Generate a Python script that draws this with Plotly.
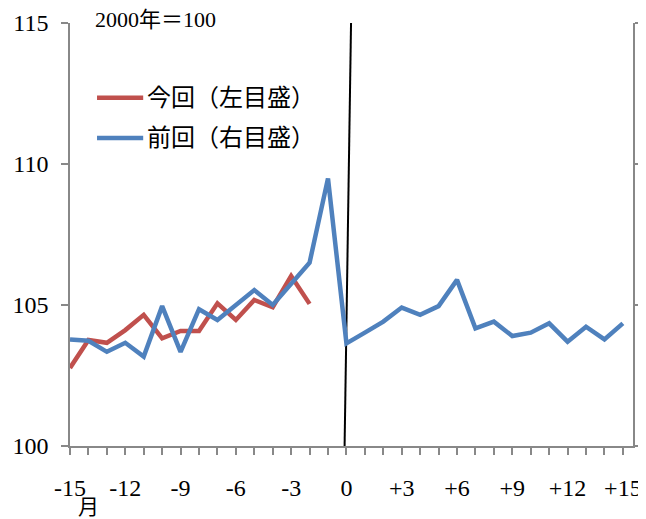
import plotly.graph_objects as go

months = list(range(-15, 16))
current_months = list(range(-15, -1))
current_values = [102.77, 103.76, 103.66, 104.11, 104.65, 103.82, 104.08, 104.08,
                  105.06, 104.47, 105.18, 104.92, 106.03, 105.04]
previous_values = [103.78, 103.73, 103.34, 103.66, 103.17, 104.96, 103.34, 104.85,
                   104.47, 104.98, 105.53, 105.00, 105.75, 106.50, 109.49, 103.64,
                   104.02, 104.41, 104.91, 104.65, 104.96, 105.89, 104.17, 104.41,
                   103.90, 104.02, 104.35, 103.70, 104.23, 103.78, 104.35]
zero_line_x = [-0.1, 0.25]
zero_line_y = [100, 115]
x_tick_vals = months
x_tick_text = [("+%d" % m if m > 0 else str(m)) if m % 3 == 0 else "" for m in months]
y_tick_vals = [100, 105, 110, 115]
series_names = ["今回（左目盛）", "前回（右目盛）"]
series_colors = ["#C0504D", "#4F81BD"]

serif = "Liberation Serif, Noto Sans CJK JP"
axis_color = "#888888"

fig = go.Figure()
fig.add_trace(go.Scatter(x=current_months, y=current_values, mode="lines",
                         name=series_names[0], showlegend=False,
                         line=dict(color=series_colors[0], width=4.5)))
fig.add_trace(go.Scatter(x=months, y=previous_values, mode="lines",
                         name=series_names[1], showlegend=False, yaxis="y2",
                         line=dict(color=series_colors[1], width=4.5)))
fig.add_trace(go.Scatter(x=zero_line_x, y=zero_line_y, mode="lines",
                         showlegend=False, hoverinfo="skip",
                         line=dict(color="black", width=2)))

# manual legend (keys + labels), placed in paper coordinates
legend_y = [0.823, 0.728]
shapes = []
annotations = []
for name, color, ly in zip(series_names, series_colors, legend_y):
    shapes.append(dict(type="line", xref="paper", yref="paper",
                       x0=0.048, x1=0.130, y0=ly, y1=ly,
                       line=dict(color=color, width=4.5)))
    annotations.append(dict(text=name, x=0.133, y=ly, xref="paper", yref="paper",
                            xanchor="left", yanchor="middle", showarrow=False,
                            font=dict(family=serif, size=24, color="black")))

annotations.append(dict(text="2000年＝100", x=0.04, y=1.008, xref="paper",
                        yref="paper", xanchor="left", yanchor="middle",
                        showarrow=False,
                        font=dict(family=serif, size=22, color="black")))
annotations.append(dict(text="月", x=-14.0, y=-0.144, xref="x", yref="paper",
                        xanchor="center", yanchor="middle", showarrow=False,
                        font=dict(family=serif, size=21, color="black")))

fig.update_layout(
    width=638, height=511,
    margin=dict(l=62, r=13, t=15, b=73, autoexpand=False),
    plot_bgcolor="white", paper_bgcolor="white",
    font=dict(family=serif, size=24, color="black"),
    showlegend=False,
    xaxis=dict(range=[-15, 15.55], tickmode="array", tickvals=x_tick_vals,
               ticktext=x_tick_text, ticks="outside", ticklen=7, tickwidth=1.5,
               tickcolor=axis_color, showline=True, linecolor=axis_color,
               linewidth=1.5, showgrid=False, zeroline=False, automargin=False,
               ticklabelstandoff=12,
               tickfont=dict(family=serif, size=24)),
    yaxis=dict(range=[100, 115], tickvals=y_tick_vals, ticks="outside",
               ticklen=7, tickwidth=1.5, tickcolor=axis_color, showline=True,
               linecolor=axis_color, linewidth=1.5, showgrid=False,
               zeroline=False, automargin=False, ticklabelstandoff=8,
               tickfont=dict(family=serif, size=24)),
    yaxis2=dict(range=[100, 115], tickvals=y_tick_vals, overlaying="y",
                side="right", ticks="outside", ticklen=7, tickwidth=1.5,
                tickcolor=axis_color, showline=True, linecolor=axis_color,
                linewidth=1.5, showgrid=False, zeroline=False, automargin=False,
                showticklabels=False),
    shapes=shapes,
    annotations=annotations,
)

fig.write_html("out.html")
